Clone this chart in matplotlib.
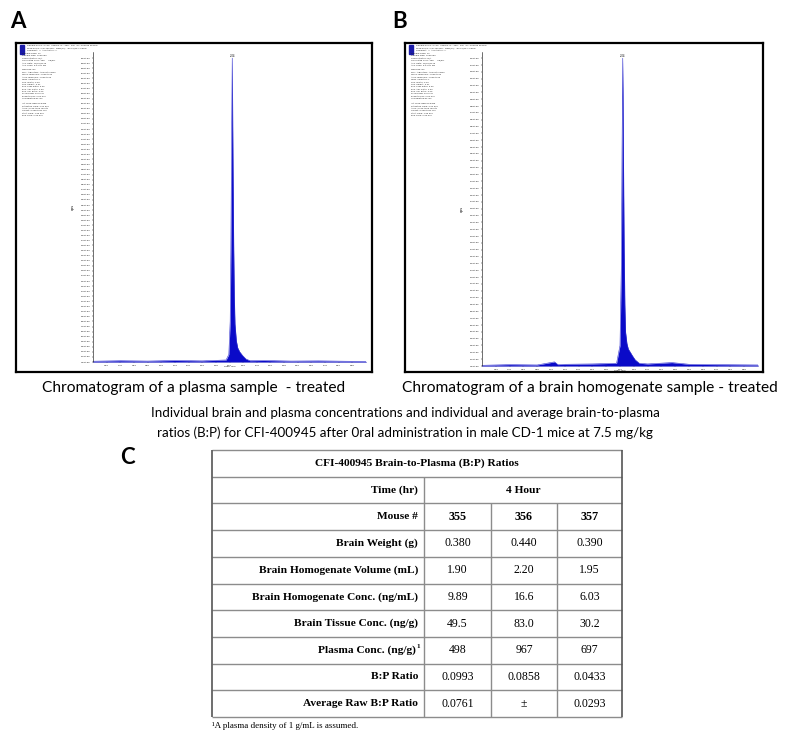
import matplotlib.pyplot as plt
from matplotlib.patches import Rectangle
import numpy as np

W, H = 792, 739

# chromatogram traces (time in min, intensity in cps)
time_a = [0.00, 0.40, 0.80, 1.20, 1.60, 1.95, 1.99, 2.01, 2.02, 2.03, 2.04, 2.05, 2.06,
          2.07, 2.08, 2.10, 2.12, 2.15, 2.19, 2.24, 2.30, 2.50, 2.90, 3.30, 3.70, 4.00]
sig_a = [150, 250, 180, 300, 220, 400, 1500, 8000, 22000, 43000, 60000, 41000, 24000,
         13000, 7500, 4200, 2800, 2000, 1300, 600, 250, 300, 180, 220, 150, 120]
time_b = [0.00, 0.40, 0.80, 1.05, 1.10, 1.20, 1.60, 1.95, 2.00, 2.02, 2.03, 2.04, 2.05,
          2.06, 2.07, 2.08, 2.10, 2.12, 2.15, 2.18, 2.22, 2.28, 2.40, 2.75, 3.00, 3.40, 4.00]
sig_b = [10, 20, 15, 60, 20, 25, 30, 40, 300, 1500, 3200, 4500, 3000,
         1700, 900, 500, 330, 250, 200, 150, 90, 40, 30, 50, 25, 20, 15]
apex_a = "2.04"
apex_b = "2.04"

# header block of the instrument printout (illegible at this size)
header = ["Sample Name: \"P-4h\"  Sample ID: \"355\"  File: \"CFI-400945 PK.wiff\"",
          "Peak Name: \"CFI-400945\"  Mass(es): \"535.2/297.1 amu\"",
          "Comment: \"\"  Annotation: \"\"",
          "Sample Index: 12",
          "Sample Type: Unknown",
          "Concentration: N/A",
          "Calculated Conc: 498      ng/mL",
          "Acq. Date: 10/22/2015",
          "Acq. Time: 3:41:07 PM",
          "",
          "Modified: No",
          "Proc. Algorithm: Analyst Classic",
          "Noise Threshold: 1.00e+002",
          "Area Threshold: 1.00e+003",
          "Num. Smooths: 1",
          "Sep. Width: 0.20",
          "Sep. Height: 0.01",
          "Exp. Peak Ratio: 5.00",
          "Exp. Adj. Ratio: 4.00",
          "Exp. Val. Ratio: 3.00",
          "RT Window: 30.0 sec",
          "Expected RT: 2.04 min",
          "Use Relative RT: No",
          "",
          "Int. Type: Base To Base",
          "Retention Time: 2.04 min",
          "Area: 4.21e+005 counts",
          "Height: 6.00e+004 cps",
          "Start Time: 1.99 min",
          "End Time: 2.30 min"]

caption_a = "Chromatogram of a plasma sample  - treated"
caption_b = "Chromatogram of a brain homogenate sample - treated"
title_lines = ["Individual brain and plasma concentrations and individual and average brain-to-plasma",
               "ratios (B:P) for CFI-400945 after 0ral administration in male CD-1 mice at 7.5 mg/kg"]

# table
table_title = "CFI-400945 Brain-to-Plasma (B:P) Ratios"
time_point = "4 Hour"
mice = ["355", "356", "357"]
row_labels = ["Brain Weight (g)", "Brain Homogenate Volume (mL)",
              "Brain Homogenate Conc. (ng/mL)", "Brain Tissue Conc. (ng/g)",
              "Plasma Conc. (ng/g)", "B:P Ratio", "Average Raw B:P Ratio"]
brain_weight = ["0.380", "0.440", "0.390"]
homog_volume = ["1.90", "2.20", "1.95"]
homog_conc = ["9.89", "16.6", "6.03"]
tissue_conc = ["49.5", "83.0", "30.2"]
plasma_conc = ["498", "967", "697"]
bp_ratio = ["0.0993", "0.0858", "0.0433"]
avg_bp = ["0.0761", "\u00b1", "0.0293"]
footnote = "\u00b9A plasma density of 1 g/mL is assumed."

SANS = ["Lato", "DejaVu Sans"]
SERIF = ["Liberation Serif", "DejaVu Serif"]

fig = plt.figure(figsize=(W / 100, H / 100), dpi=100)


def box(x0, y0, x1, y1):
    return [x0 / W, 1 - y1 / H, (x1 - x0) / W, (y1 - y0) / H]


def chromatogram(frame_box, plot_box, t, s, ymax, ystep, apex):
    x0, y0, x1, y1 = frame_box
    fr = fig.add_axes(box(*frame_box))
    fr.set_xlim(x0, x1)
    fr.set_ylim(y1, y0)
    fr.set_xticks([])
    fr.set_yticks([])
    for sp in fr.spines.values():
        sp.set_linewidth(1.6)
    fr.add_patch(Rectangle((x0 + 4, y0 + 2), 4, 9, color="#1a1aa8"))
    for i, line in enumerate(header):
        fr.text(x0 + 11 if i < 3 else x0 + 6, y0 + 3 + i * 2.4, line, fontsize=1.5,
                va="center", ha="left", color="#222222")

    ax = fig.add_axes(box(*plot_box))
    ax.fill_between(t, s, color="#0a0ac8", lw=0)
    ax.plot(t, s, color="#3030d0", lw=0.4)
    ax.set_xlim(0, 4.0)
    ax.set_ylim(0, ymax * 1.02)
    ax.patch.set_alpha(0)
    for sp in ["top", "right"]:
        ax.spines[sp].set_visible(False)
    ax.spines["left"].set_linewidth(0.4)
    ax.spines["bottom"].set_linewidth(0.4)
    ax.spines["bottom"].set_color("#6a6ad0")
    yt = np.arange(0, ymax + 1, ystep)
    ax.set_yticks(yt)
    ax.set_yticklabels([f"{v:.1e}" for v in yt])
    xt = np.arange(0.2, 3.81, 0.2)
    ax.set_xticks(xt)
    ax.set_xticklabels([f"{v:.2f}" for v in xt])
    ax.tick_params(labelsize=1.6, length=1, width=0.3, pad=1)
    ax.set_ylabel("cps", fontsize=2.5, labelpad=4)
    ax.set_xlabel("Time, min", fontsize=1.6, labelpad=0.5)
    ax.text(float(apex), max(s), apex, fontsize=1.8, ha="center", va="bottom")
    return ax


chromatogram((16, 43, 372, 372), (93, 52, 366, 362), time_a, sig_a, 60000, 1000, apex_a)
chromatogram((405, 43, 763, 372), (482, 52, 758, 366), time_b, sig_b, 4500, 100, apex_b)

# overlay in pixel coordinates for labels, captions and table
ov = fig.add_axes([0, 0, 1, 1])
ov.set_xlim(0, W)
ov.set_ylim(H, 0)
ov.axis("off")
ov.patch.set_alpha(0)

ov.text(18, 22, "A", fontsize=16, fontweight="bold", family=SANS, ha="center", va="center")
ov.text(400, 22, "B", fontsize=16, fontweight="bold", family=SANS, ha="center", va="center")
ov.text(127, 458, "C", fontsize=16, fontweight="bold", family=SANS, ha="center", va="center")
ov.text(194, 388, caption_a, fontsize=11.2, family=SANS, ha="center", va="center")
ov.text(590, 388, caption_b, fontsize=11.2, family=SANS, ha="center", va="center")
for i, line in enumerate(title_lines):
    ov.text(405, 413 + i * 20, line, fontsize=9.6, family=SANS, ha="center", va="center")

tl, tr = 212, 622
cols = [tl, 424, 491, 557, tr]
rh = 26.7
rows = [450 + i * rh for i in range(11)]
grid = "#8c8c8c"
FS = 8.2
ov.hlines(rows, tl, tr, color=grid, lw=1)
ov.vlines([tl, tr], rows[0], rows[-1], color="#555555", lw=1.2)
ov.vlines(cols[1], rows[1], rows[-1], color=grid, lw=1)
ov.vlines(cols[2:4], rows[2], rows[-1], color=grid, lw=1)


def mid(i):
    return (rows[i] + rows[i + 1]) / 2


centers = [(cols[j] + cols[j + 1]) / 2 for j in range(1, 4)]
ov.text((tl + tr) / 2, mid(0), table_title, fontsize=FS, fontweight="bold", family=SERIF,
        ha="center", va="center")
ov.text(cols[1] - 6, mid(1), "Time (hr)", fontsize=FS, fontweight="bold", family=SERIF,
        ha="right", va="center")
ov.text((cols[1] + tr) / 2, mid(1), time_point, fontsize=FS, fontweight="bold", family=SERIF,
        ha="center", va="center")
ov.text(cols[1] - 6, mid(2), "Mouse #", fontsize=FS, fontweight="bold", family=SERIF,
        ha="right", va="center")
for c, m in zip(centers, mice):
    ov.text(c, mid(2), m, fontsize=FS + 0.5, fontweight="bold", family=SERIF,
            ha="center", va="center")

values = [brain_weight, homog_volume, homog_conc, tissue_conc, plasma_conc, bp_ratio, avg_bp]
for k, (lab, vals) in enumerate(zip(row_labels, values)):
    r = 3 + k
    if lab.startswith("Plasma"):
        ov.text(cols[1] - 8, mid(r), lab, fontsize=FS, fontweight="bold", family=SERIF,
                ha="right", va="center")
        ov.text(cols[1] - 7.5, mid(r) - 4, "1", fontsize=5, fontweight="bold", family=SERIF,
                ha="left", va="center")
    else:
        ov.text(cols[1] - 6, mid(r), lab, fontsize=FS, fontweight="bold", family=SERIF,
                ha="right", va="center")
    for c, v in zip(centers, vals):
        ov.text(c, mid(r), v, fontsize=FS + 0.3, family=SERIF, ha="center", va="center")

ov.text(tl, rows[-1] + 9, footnote, fontsize=6.5, family=SERIF, ha="left", va="center")

fig.savefig("out.png", dpi=100)
